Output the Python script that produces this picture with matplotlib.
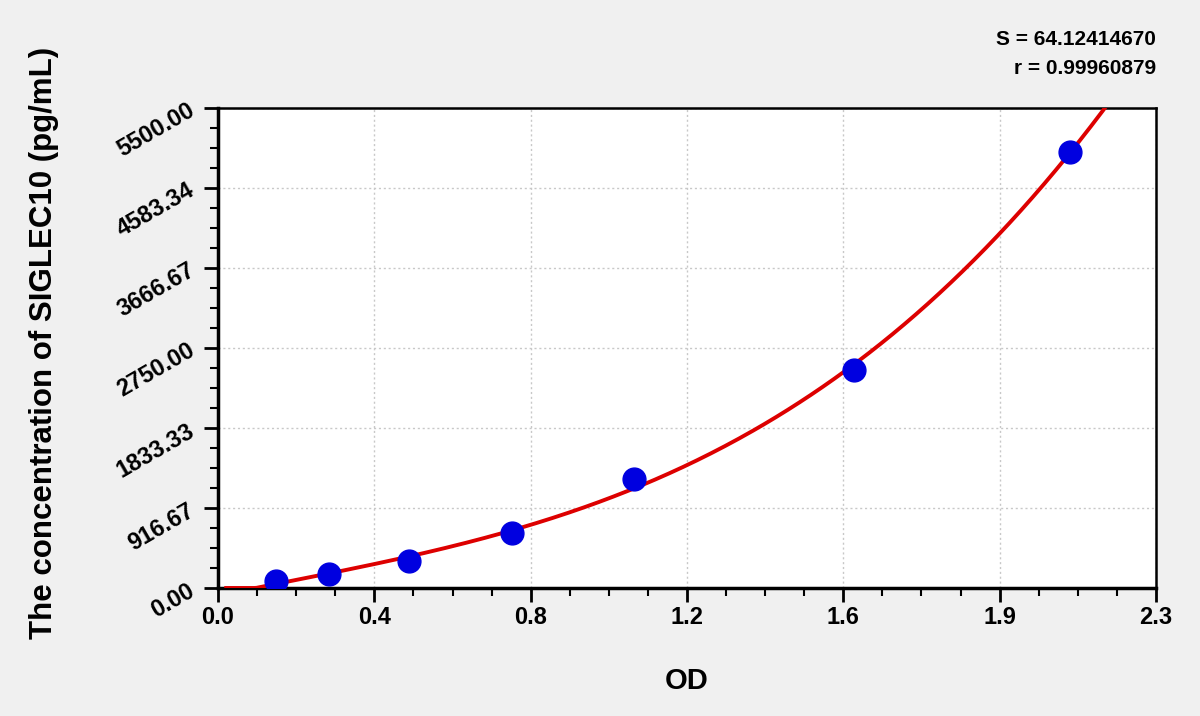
import matplotlib
matplotlib.use("Agg")
import matplotlib.pyplot as plt
import numpy as np
from matplotlib.ticker import FixedLocator, AutoMinorLocator

# standard curve points
od = [0.142, 0.272, 0.468, 0.720, 1.021, 1.559, 2.089]
conc = [78, 156, 312, 625, 1250, 2500, 5000]

x_ticks = np.linspace(0, 2.3, 7)
x_labels = ['0.0', '0.4', '0.8', '1.2', '1.6', '1.9', '2.3']
y_ticks = np.linspace(0, 5500, 7)
y_labels = ['0.00', '916.67', '1833.33', '2750.00', '3666.67', '4583.34', '5500.00']
stat_lines = ["S = 64.12414670", "r = 0.99960879"]

plt.rcParams['font.family'] = ['Liberation Sans', 'DejaVu Sans']
plt.rcParams['font.weight'] = 'bold'

fig = plt.figure(figsize=(12, 7.16), dpi=100, facecolor='#f0f0f0')
ax = fig.add_axes([0.1817, 0.1788, 0.7816, 0.6704])
ax.set_facecolor('white')

# fitted curve (cubic)
coef = np.polyfit(od, conc, 3)
xs = np.linspace(0.02, 2.3, 400)
ys = np.clip(np.polyval(coef, xs), 0, None)
ax.plot(xs, ys, color='#dd0000', lw=2.8, zorder=3)
ax.scatter(od, conc, s=270, color='#0000e0', zorder=4)

ax.set_xlim(0, 2.3)
ax.set_ylim(0, 5500)
ax.xaxis.set_major_locator(FixedLocator(x_ticks))
ax.yaxis.set_major_locator(FixedLocator(y_ticks))
ax.xaxis.set_minor_locator(AutoMinorLocator(4))
ax.yaxis.set_minor_locator(AutoMinorLocator(4))
ax.set_xticklabels(x_labels, fontsize=17, fontweight='bold')
ax.set_yticklabels(y_labels, fontsize=17, fontweight='bold', rotation=30)

ax.tick_params(which='major', direction='out', length=10, width=2)
ax.tick_params(axis='x', which='major', pad=3)
ax.tick_params(axis='y', which='major', pad=4)
ax.tick_params(which='minor', direction='out', length=6, width=1.5)

ax.grid(True, which='major', color='#c8c8c8', linestyle=(0, (1.5, 2)), lw=1)
ax.set_axisbelow(True)

for side in ['left', 'bottom']:
    ax.spines[side].set_linewidth(2.5)
for side in ['top', 'right']:
    ax.spines[side].set_linewidth(1.8)

ax.set_xlabel('OD', fontsize=21, fontweight='bold')
ax.set_ylabel('The concentration of SIGLEC10 (pg/mL)', fontsize=22.5, fontweight='bold')
ax.xaxis.set_label_coords(0.5, -0.165)
ax.yaxis.set_label_coords(-0.170, 0.51)

fig.text(0.9633, 0.945, stat_lines[0], ha='right', va='center', fontsize=15, fontweight='bold')
fig.text(0.9633, 0.905, stat_lines[1], ha='right', va='center', fontsize=15, fontweight='bold')

fig.savefig('out.png', dpi=100, facecolor=fig.get_facecolor())
